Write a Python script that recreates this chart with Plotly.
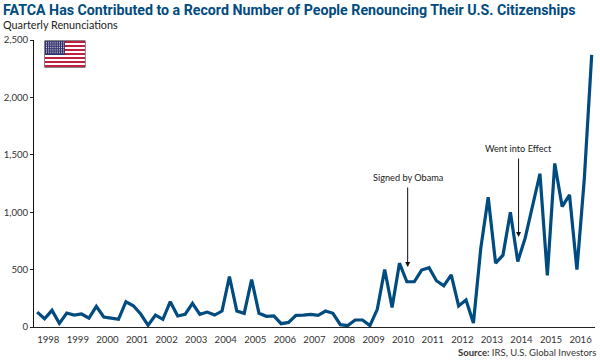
import plotly.graph_objects as go

renunciations = [130,72,145,32,122,104,113,78,180,87,78,67,220,185,113,15,104,67,220,96,110,206,110,130,
104,139,440,139,119,414,119,93,96,29,40,101,104,110,101,139,119,20,12,61,61,12,154,501,171,556,394,394,496,516,403,359,455,183,235,35,
687,1130,556,626,1000,571,774,1050,1335,449,1425,1049,1150,499,1290,2370]
year_labels = [str(y) for y in range(1998, 2017)]
y_ticks = [0,500,1000,1500,2000,2500]
y_tick_labels = ["0","500","1,000","1,500","2,000","2,500"]
x = list(range(len(renunciations)))

W, H = 600, 360
L, R, T, B = 33.5, 595, 40, 327
NAVY = "#004b7f"
FONT = "Lato"
x0px, stepx = 36.7, 7.4
xmin = (L-x0px)/stepx
xmax = (R-x0px)/stepx

def pp(px, py):
    return (px-L)/(R-L), 1-(py-T)/(B-T)

fig = go.Figure()
fig.add_trace(go.Scatter(x=x, y=renunciations, mode="lines", line=dict(color=NAVY, width=3.2, shape="linear"),
                         cliponaxis=False, hoverinfo="skip", showlegend=False))

fig.update_layout(
    width=W, height=H, paper_bgcolor="white", plot_bgcolor="white", showlegend=False,
    margin=dict(l=L, r=W-R, t=T, b=H-B, autoexpand=False),
    font=dict(family=FONT, size=9.6, color="#333333"),
    xaxis=dict(range=[xmin,xmax], tickmode="array", tickvals=[1.5+4*i for i in range(19)], ticktext=year_labels,
               ticks="", showgrid=False, zeroline=False, showline=True, linecolor="#222222", linewidth=1,
               tickfont=dict(family=FONT, size=9.6, color="#333333"), ticklabelstandoff=3),
    yaxis=dict(range=[0,2500], tickmode="array", tickvals=y_ticks, ticktext=y_tick_labels,
               ticks="outside", ticklen=3, tickcolor="#222222", showgrid=False, zeroline=False,
               showline=True, linecolor="#111111", linewidth=1,
               tickfont=dict(family=FONT, size=9.6, color="#333333")),
)

ann = []
def text(px, py, s, size, color, anchor="left", family=FONT, vanchor="middle"):
    xx, yy = pp(px, py)
    ann.append(dict(xref="paper", yref="paper", x=xx, y=yy, text=s, showarrow=False, xanchor=anchor, yanchor=vanchor,
                    borderpad=0, font=dict(family=family, size=size, color=color)))
text(1.5, 9.5, "<b>FATCA Has Contributed to a Record Number of People Renouncing Their U.S. Citizenships</b>", 14.2, NAVY, family="Roboto")
text(1.5, 24, "Quarterly Renunciations", 10.8, "#222222")
text(597.5, 352, "<b>Source:</b> IRS, U.S. Global Investors", 9.5, "#333333", anchor="right")
text(407.5, 177.5, "Signed by Obama", 9.2, "#222222", anchor="center")
text(518.5, 148, "Went into Effect", 9.2, "#222222", anchor="center")
for (px, y0, y1) in [(407.5, 186, 267), (518.5, 157, 237)]:
    xx, yy = pp(px, y1)
    ann.append(dict(xref="paper", yref="paper", x=xx, y=yy, ax=0, ay=-(y1-y0), text="", showarrow=True,
                    arrowhead=2, arrowsize=1, arrowwidth=1, arrowcolor="#111111"))
fig.update_layout(annotations=ann)

# flag
shapes = []
fx0, fx1, fy0, fy1 = 44.5, 84.5, 41, 67
def rect(a, b, c, d, col):
    xa, ya = pp(a, b); xb, yb = pp(c, d)
    shapes.append(dict(type="rect", xref="paper", yref="paper", x0=xa, y0=ya, x1=xb, y1=yb, fillcolor=col, line=dict(width=0), layer="above"))
rect(fx0-0.5, fy0-0.5, fx1+0.5, fy1+0.5, "#111111")
sh = (fy1-fy0)/13
for i in range(13):
    rect(fx0, fy0+i*sh, fx1, fy0+(i+1)*sh, "#bf2040" if i%2==0 else "#ffffff")
rect(fx0, fy0, fx0+20, fy0+7*sh, "#2f2f6b")
for r in range(7):
    for c in range(9):
        cx = fx0+1.5+c*2.15; cy = fy0+1.3+r*1.75
        rect(cx-0.45, cy-0.45, cx+0.45, cy+0.45, "#e8e8f4")
fig.update_layout(shapes=shapes)
fig.write_html("out.html", config={"displayModeBar": False}, post_script="document.body.style.margin='0';")
